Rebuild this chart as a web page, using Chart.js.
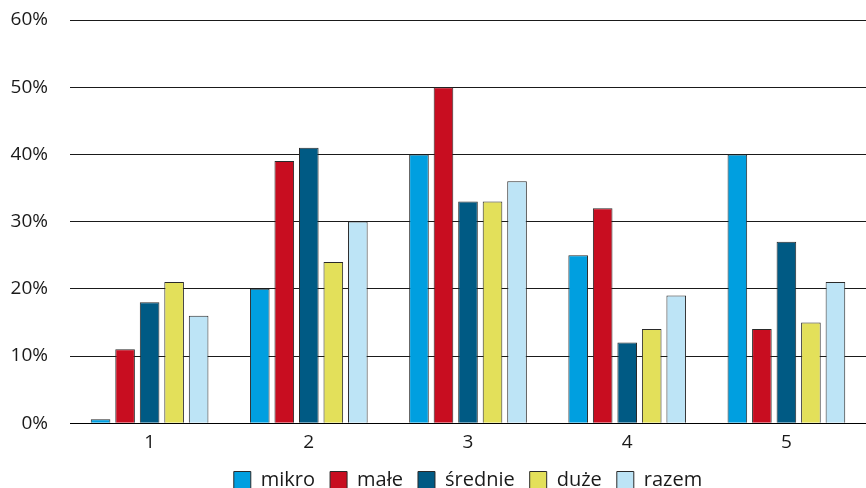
<!DOCTYPE html>
<html>
<head>
<meta charset="utf-8">
<script src="https://cdn.jsdelivr.net/npm/chart.js@4/dist/chart.umd.min.js"></script>
<style>
  html, body { margin: 0; padding: 0; background: #fff; }
  #wrap { width: 866px; height: 488px; position: relative; }
</style>
</head>
<body>
<div id="wrap"><canvas id="c" width="866" height="488"></canvas></div>
<script>
// Categories on the x axis
const categories = ['1', '2', '3', '4', '5'];

// Share (%) for each enterprise size class
const mikro   = [0.6, 20, 40, 25, 40];
const male    = [11, 39, 50, 32, 14];
const srednie = [18, 41, 33, 12, 27];
const duze    = [21, 24, 33, 14, 15];
const razem   = [16, 30, 36, 19, 21];

// Y axis ticks
const yTicks = [0, 10, 20, 30, 40, 50, 60];

const seriesNames = ['mikro', 'małe', 'średnie', 'duże', 'razem'];
const seriesValues = [mikro, male, srednie, duze, razem];
const seriesColors = ['#009fe0', '#c80d20', '#005a84', '#e3e05a', '#bde4f6'];

const AXIS_FONT = { family: '"Open Sans", "Liberation Sans", sans-serif', size: 19 };
const LEGEND_FONT = { family: '"Open Sans", "Liberation Sans", sans-serif', size: 20 };

// Centre the legend under the plot area and lift it slightly
const legendUnderPlot = {
  id: 'legendUnderPlot',
  afterLayout(chart) {
    const lg = chart.legend;
    if (!lg) return;
    lg.left = chart.chartArea.left;
    lg.top -= 7;
    lg.bottom -= 7;
  }
};

new Chart(document.getElementById('c'), {
  type: 'bar',
  data: {
    labels: categories,
    datasets: seriesNames.map((name, i) => ({
      label: name,
      data: seriesValues[i],
      backgroundColor: seriesColors[i],
      borderColor: '#2a2a2a',
      borderWidth: 1,
      categoryPercentage: 0.77,
      barPercentage: 0.8
    }))
  },
  plugins: [legendUnderPlot],
  options: {
    responsive: false,
    animation: false,
    layout: { padding: { top: 20, right: 0, bottom: -19, left: 0 } },
    plugins: {
      tooltip: { enabled: false },
      legend: {
        position: 'bottom',
        labels: {
          font: LEGEND_FONT,
          color: '#1a1a1a',
          boxWidth: 17,
          boxHeight: 17,
          padding: 15
        }
      }
    },
    scales: {
      x: {
        grid: { display: false, drawTicks: false },
        border: { display: true, color: '#000', width: 1 },
        ticks: { font: AXIS_FONT, color: '#1a1a1a', padding: 8 }
      },
      y: {
        min: 0,
        max: 60,
        afterFit: (s) => { s.width = 70; s.paddingTop = 0; s.paddingBottom = 0; },
        afterBuildTicks: (s) => { s.ticks = yTicks.map(v => ({ value: v })); },
        grid: { color: '#1a1a1a', lineWidth: 1, drawTicks: false },
        border: { display: false },
        ticks: {
          font: AXIS_FONT,
          color: '#1a1a1a',
          padding: 22,
          callback: (v) => v + '%'
        }
      }
    }
  }
});
</script>
</body>
</html>
